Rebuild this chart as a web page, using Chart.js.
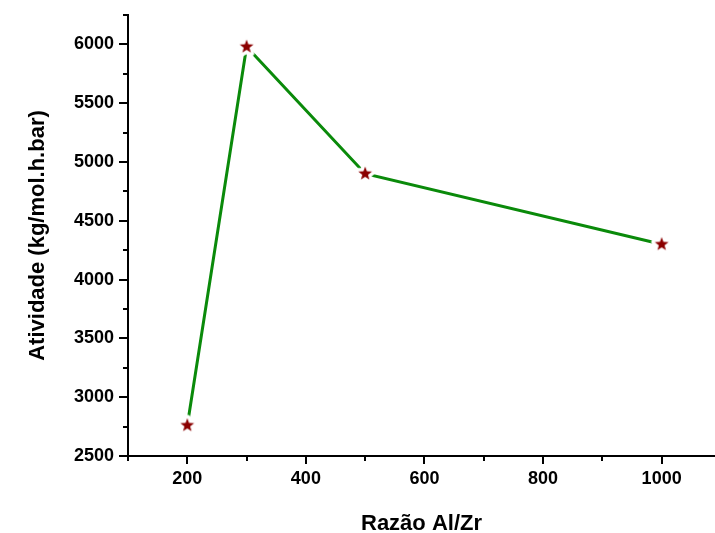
<!DOCTYPE html>
<html>
<head>
<meta charset="utf-8">
<script src="https://cdn.jsdelivr.net/npm/chart.js@4"></script>
<style>
  html, body { margin: 0; padding: 0; background: #fff; }
  #wrap { width: 715px; height: 533px; }
</style>
</head>
<body>
<div id="wrap"><canvas id="chart_canvas" width="715" height="533"></canvas></div>
<script>
// data
const razao = [200, 300, 500, 1000];
const atividade = [2760, 5980, 4900, 4300];
const x_major = [200, 400, 600, 800, 1000];
const x_minor = [100, 300, 500, 700, 900];
const y_major = [2500, 3000, 3500, 4000, 4500, 5000, 5500, 6000];
const y_minor = [2750, 3250, 3750, 4250, 4750, 5250, 5750, 6250];

const font_name = "'Liberation Sans', Arial, sans-serif";

// filled 5 point star w white halo so the line stops short of it
function make_star() {
    const c = document.createElement("canvas");
    c.width = 26; c.height = 26;
    const g = c.getContext("2d");
    const pts = [];
    for (let k = 0; k < 10; k++) {
        const r = k % 2 == 0 ? 7.2 : 3.0;
        const a = -Math.PI / 2 + k * Math.PI / 5;
        pts.push([13 + r * Math.cos(a), 13 + r * Math.sin(a)]);
    }
    const path = () => {
        g.beginPath();
        pts.forEach((p, k) => k ? g.lineTo(p[0], p[1]) : g.moveTo(p[0], p[1]));
        g.closePath();
    };
    path();
    g.lineJoin = "round";
    g.lineWidth = 7;
    g.strokeStyle = "#fff";
    g.stroke();
    g.fillStyle = "#fff";
    g.fill();
    path();
    g.fillStyle = "#8b0000";
    g.fill();
    return c;
}

// outward major / minor tick marks
const tick_marks = {
    id: "tick_marks",
    afterDraw(chart) {
        const ctx = chart.ctx;
        const xs = chart.scales.x, ys = chart.scales.y;
        const ca = chart.chartArea;
        ctx.save();
        ctx.strokeStyle = "#000";
        ctx.lineWidth = 2;
        ctx.beginPath();
        for (const v of x_major.concat(x_minor)) {
            const px = Math.round(xs.getPixelForValue(v));
            const len = x_major.includes(v) ? 8 : 5;
            ctx.moveTo(px, ca.bottom);
            ctx.lineTo(px, ca.bottom + len);
        }
        for (const v of y_major.concat(y_minor)) {
            const py = Math.round(ys.getPixelForValue(v));
            const len = y_major.includes(v) ? 9 : 5;
            ctx.moveTo(ca.left, py);
            ctx.lineTo(ca.left - len, py);
        }
        ctx.stroke();
        ctx.restore();
    }
};

new Chart(document.getElementById("chart_canvas").getContext("2d"), {
    type: "line",
    data: {
        datasets: [{
            data: razao.map((x, k) => ({ x: x, y: atividade[k] })),
            borderColor: "#0a8a0a",
            borderWidth: 3,
            pointStyle: make_star(),
            pointRadius: 7,
            tension: 0,
            clip: false,
        }],
    },
    options: {
        responsive: false,
        animation: false,
        layout: { autoPadding: false, padding: { top: 15, right: 0, left: 25, bottom: 0 } },
        plugins: { legend: { display: false }, tooltip: { enabled: false } },
        scales: {
            x: {
                type: "linear",
                min: 100,
                max: 1090,
                afterBuildTicks: (s) => { s.ticks = x_major.map(v => ({ value: v })); },
                afterFit: (s) => { s.height = 77; s.paddingLeft = 0; s.paddingRight = 0; },
                grid: { display: false },
                border: { display: true, color: "#000", width: 2 },
                ticks: {
                    padding: 4,
                    color: "#000",
                    callback: (v) => String(v),
                    font: { family: font_name, size: 18, weight: "bold" },
                },
                title: {
                    display: true,
                    text: "Razão Al/Zr",
                    color: "#000",
                    padding: 0,
                    font: { family: font_name, size: 22, weight: "bold", lineHeight: 0.8 },
                },
            },
            y: {
                min: 2500,
                max: 6250,
                afterBuildTicks: (s) => { s.ticks = y_major.map(v => ({ value: v })); },
                afterFit: (s) => { s.width = 103; s.paddingTop = 0; s.paddingBottom = 0; },
                grid: { display: false },
                border: { display: true, color: "#000", width: 2 },
                ticks: {
                    padding: 6,
                    color: "#000",
                    callback: (v) => String(v),
                    font: { family: font_name, size: 18, weight: "bold" },
                },
                title: {
                    display: true,
                    text: "Atividade (kg/mol.h.bar)",
                    color: "#000",
                    padding: 0,
                    font: { family: font_name, size: 22, weight: "bold" },
                },
            },
        },
    },
    plugins: [tick_marks],
});
</script>
</body>
</html>
